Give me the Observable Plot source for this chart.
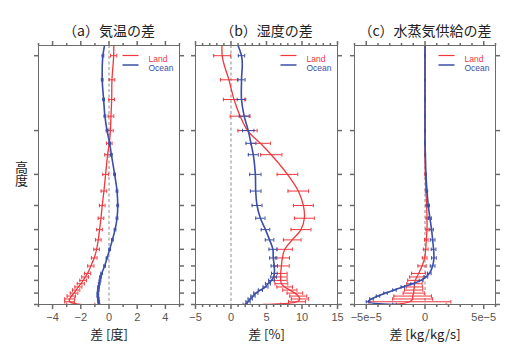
<!DOCTYPE html>
<html><head><meta charset="utf-8">
<script src="https://cdn.jsdelivr.net/npm/d3@7"></script>
<script src="https://cdn.jsdelivr.net/npm/@observablehq/plot@0.6"></script>
<style>
html,body{margin:0;padding:0;background:#fff;}
#chart{position:relative;width:515px;height:360px;display:flex;}
#chart svg{overflow:visible;flex:none;}
#ylab{position:absolute;left:12px;top:161px;writing-mode:vertical-rl;text-orientation:upright;font:13px "Noto Sans CJK JP";color:#222;letter-spacing:0;}
</style></head><body>
<div id="chart"><div id="ylab">高度</div></div>
<script>
// pressure levels (hPa); 70 only continues the curves up to the top edge
const levels = [70,100,125,150,175,200,225,250,300,350,400,450,500,550,600,650,700,750,775,800,825,850,875,900,925,950,975,1000];
const yTicks = [100,200,300,400,500,600,700,800,900,1000];

// (a) temperature difference [deg]
const tempLand     = [0.33,0.33,0.21,0.19,0.14,0.10,0.02,-0.10,-0.24,-0.36,-0.48,-0.57,-0.67,-0.76,-0.88,-1.05,-1.29,-1.52,-1.69,-1.83,-2.00,-2.17,-2.33,-2.48,-2.67,-2.79,-2.79,-2.0];
const tempLandErr  = [0.2,0.22,0.2,0.2,0.2,0.2,0.2,0.2,0.2,0.2,0.2,0.2,0.2,0.2,0.2,0.2,0.22,0.22,0.24,0.24,0.25,0.25,0.26,0.27,0.3,0.35,0.35,1.0];
const tempOcean    = [0.11,-0.43,-0.48,-0.38,-0.29,-0.14,0.05,0.17,0.40,0.57,0.62,0.57,0.43,0.24,0.05,-0.14,-0.31,-0.52,-0.60,-0.64,-0.69,-0.74,-0.76,-0.79,-0.79,-0.76,-0.74,-0.71];
const tempOceanErr = [0.06,0.06,0.06,0.06,0.06,0.06,0.06,0.06,0.06,0.06,0.06,0.06,0.06,0.06,0.06,0.06,0.06,0.06,0.06,0.06,0.06,0.06,0.06,0.06,0.06,0.06,0.06,0.06];

// (b) humidity difference [%]
const humLand     = [-0.9,-1.24,-0.29,0.43,1.29,2.33,4.14,5.67,7.95,9.48,10.19,10.33,9.86,8.62,7.57,7.24,7.10,7.0,7.0,7.0,7.1,7.57,8.29,9.0,9.48,9.7,9.3,4.5];
const humLandErr  = [1.2,1.2,1.2,1.5,1.4,1.35,1.4,1.5,1.45,1.45,1.4,1.4,1.4,1.24,1.07,1.0,1.1,0.9,0.9,0.9,0.9,1.1,1.0,1.1,1.2,1.2,1.2,2.5];
const humOcean    = [-1.1,1.48,1.48,1.48,1.86,2.43,2.81,3.14,3.43,3.48,3.67,4.14,4.86,5.43,5.9,5.95,6.1,6.1,6.0,5.7,5.2,4.86,4.14,3.5,3.1,2.7,2.4,2.0];
const humOceanErr = [0.45,0.45,0.5,0.6,0.7,0.8,0.7,0.7,0.8,0.75,0.7,0.65,0.6,0.6,0.55,0.5,0.45,0.4,0.4,0.4,0.35,0.35,0.3,0.3,0.3,0.3,0.3,0.3];

// (c) water vapour supply difference, in units of 1e-5 kg/kg/s
const WV_UNIT = 1e-5;
const wvLand     = [0,0,0,0,0,0,0,0,0.03,0.08,0.14,0.17,0.17,0.11,0.06,-0.03,-0.25,-0.54,-0.70,-0.82,-0.90,-0.90,-0.96,-0.96,-1.05,-1.05,-1.3,-2.7];
const wvLandErr  = [0,0.02,0.02,0.02,0.02,0.02,0.03,0.03,0.04,0.05,0.07,0.08,0.1,0.15,0.2,0.2,0.35,0.6,0.6,0.65,0.65,0.7,0.78,0.9,1.6,1.7,3.5,4.5];
const wvOcean    = [0,0,0,0,0,0,0,0.03,0.08,0.17,0.28,0.42,0.56,0.65,0.73,0.76,0.65,0.37,0.08,-0.34,-1.05,-1.89,-2.6,-3.36,-4.0,-4.55,-4.85,-2.6];
const wvOceanErr = [0,0.01,0.01,0.01,0.01,0.01,0.02,0.02,0.04,0.06,0.1,0.12,0.15,0.2,0.2,0.2,0.2,0.15,0.15,0.15,0.15,0.15,0.15,0.15,0.15,0.15,0.15,0.15];

// tick values and labels
const tempMajor = [-4,-2,0,2,4], tempMinor = [-5,-3,-1,1,3,5], tempLabels = ["−4","−2","0","2","4"];
const humMajor = [-5,0,5,10,15], humMinor = [-4,-3,-2,-1,1,2,3,4,6,7,8,9,11,12,13,14], humLabels = ["−5","0","5","10","15"];
const wvMajor = [-5,0,5], wvMinor = [-6,-4,-3,-2,-1,1,2,3,4,6], wvLabels = ["−5e−5","0","5e−5"];

const RED = "#f0373c", BLUE = "#3b4ea8", AXIS = "#6b6b6b";
const seriesNames = ["Land","Ocean"];

const sym = (a,b,c,d) => ({draw(ctx, size){const r = Math.sqrt(size/Math.PI); ctx.moveTo(a*r,b*r); ctx.lineTo(c*r,d*r);}});
const vbar = sym(0,-1,0,1), upT = sym(0,0,0,-1), downT = sym(0,0,0,1), leftT = sym(0,0,-1,0), rightT = sym(0,0,1,0), hbar = sym(-1,0,1,0);

function rows(vals, errs, unit=1){
  return levels.map((p,i)=>({p, v: vals[i]*unit, lo:(vals[i]-errs[i])*unit, hi:(vals[i]+errs[i])*unit}));
}

function panel(o){
  const u = o.unit || 1;
  const land = rows(o.land, o.landErr, u), ocean = rows(o.ocean, o.oceanErr, u);
  const errMarks = (data, color, w) => [
    Plot.ruleY(data, {y:"p", x1:"lo", x2:"hi", stroke:color, strokeWidth:w, clip:true}),
    Plot.dot(data, {y:"p", x:"lo", symbol:vbar, r:1.8, stroke:color, strokeWidth:w, fill:"none", clip:true}),
    Plot.dot(data, {y:"p", x:"hi", symbol:vbar, r:1.8, stroke:color, strokeWidth:w, fill:"none", clip:true})
  ];
  const tickFont = {fontFamily:"Liberation Sans, Arial, sans-serif", fontSize:11, fill:"#555"};
  const legFont = {frameAnchor:"top-right", dx:-31, textAnchor:"start", fontSize:8.5, fontFamily:"Liberation Sans, Arial, sans-serif"};
  return Plot.plot({
    width:o.width, height:360, marginLeft:o.mL, marginRight:o.mR, marginTop:45, marginBottom:56,
    style:{background:"transparent", overflow:"visible"},
    x:{domain:o.domain, axis:null},
    y:{type:"log", domain:[1000,91], axis:null},
    marks:[
      Plot.ruleX([0], {stroke:"#8a8a8a", strokeDasharray:"3,2.5", strokeWidth:1}),
      ...errMarks(land, RED, 1),
      Plot.line(land, {x:"v", y:"p", stroke:RED, strokeWidth:1.3, curve:"catmull-rom", clip:true}),
      ...errMarks(ocean, BLUE, 1),
      Plot.line(ocean, {x:"v", y:"p", stroke:BLUE, strokeWidth:1.6, curve:"catmull-rom", clip:true}),
      Plot.frame({stroke:AXIS, strokeWidth:1}),
      Plot.dot(o.major.map(d=>d*u), {x:d=>d, frameAnchor:"top", symbol:upT, r:4.5, stroke:AXIS, fill:"none"}),
      Plot.dot(o.minor.map(d=>d*u), {x:d=>d, frameAnchor:"top", symbol:upT, r:2.5, stroke:AXIS, fill:"none"}),
      Plot.dot(o.major.map(d=>d*u), {x:d=>d, frameAnchor:"bottom", symbol:downT, r:4.5, stroke:AXIS, fill:"none"}),
      Plot.dot(o.minor.map(d=>d*u), {x:d=>d, frameAnchor:"bottom", symbol:downT, r:2.5, stroke:AXIS, fill:"none"}),
      Plot.dot(yTicks, {y:d=>d, frameAnchor:"left", symbol:leftT, r:4.5, stroke:AXIS, fill:"none"}),
      Plot.dot(yTicks, {y:d=>d, frameAnchor:"right", symbol:rightT, r:4.5, stroke:AXIS, fill:"none"}),
      Plot.text(o.major.map(d=>d*u), {x:d=>d, text:(d,i)=>o.labels[i], frameAnchor:"bottom", dy:16, ...tickFont}),
      Plot.text([o.xlabel], {text:d=>d, frameAnchor:"bottom", dy:34, fontSize:13, fill:"#222", fontFamily:"Noto Sans CJK JP"}),
      Plot.text([o.title], {text:d=>d, frameAnchor:"top", dy:-19, fontSize:14, fill:"#222", fontFamily:"Noto Sans CJK JP"}),
      Plot.dot([seriesNames[0]], {frameAnchor:"top-right", dx:-49, dy:10, symbol:hbar, r:8, stroke:RED, strokeWidth:1.2}),
      Plot.dot([seriesNames[1]], {frameAnchor:"top-right", dx:-49, dy:19.5, symbol:hbar, r:8, stroke:BLUE, strokeWidth:1.5}),
      Plot.text([seriesNames[0]], {text:d=>d, dy:10, fill:RED, ...legFont}),
      Plot.text([seriesNames[1]], {text:d=>d, dy:19.5, fill:BLUE, ...legFont})
    ]
  });
}

const chart = document.getElementById("chart");
chart.appendChild(panel({width:187, mL:38, mR:8, domain:[-5,5], land:tempLand, landErr:tempLandErr, ocean:tempOcean, oceanErr:tempOceanErr,
  major:tempMajor, minor:tempMinor, labels:tempLabels, title:"（a）気温の差", xlabel:"差 [度]"}));
chart.appendChild(panel({width:159, mL:8, mR:9, domain:[-5,15], land:humLand, landErr:humLandErr, ocean:humOcean, oceanErr:humOceanErr,
  major:humMajor, minor:humMinor, labels:humLabels, title:"（b）湿度の差", xlabel:"差 [%]"}));
chart.appendChild(panel({width:169, mL:8, mR:20, domain:[-6e-5,6e-5], unit:WV_UNIT, land:wvLand, landErr:wvLandErr, ocean:wvOcean, oceanErr:wvOceanErr,
  major:wvMajor, minor:wvMinor, labels:wvLabels, title:"（c）水蒸気供給の差", xlabel:"差 [kg/kg/s]"}));
</script>
</body></html>
